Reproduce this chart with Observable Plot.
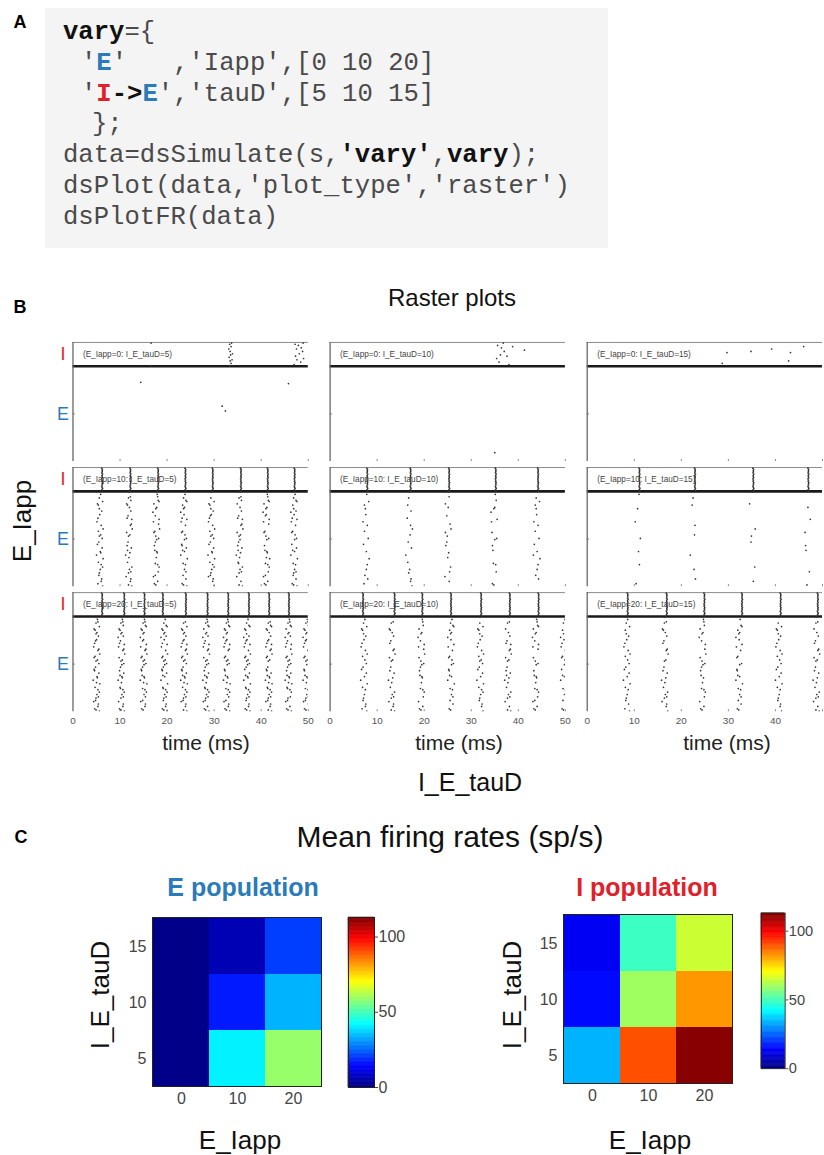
<!DOCTYPE html>
<html><head><meta charset="utf-8">
<script src="https://cdn.jsdelivr.net/npm/d3@7"></script>
<script src="https://cdn.jsdelivr.net/npm/@observablehq/plot@0.6"></script>
<style>
html,body{margin:0;padding:0;background:#fff;}
#page{position:relative;width:824px;height:1155px;overflow:hidden;font-family:"Liberation Sans",Arial,sans-serif;color:#111;}
.abs{position:absolute;}
.lbl{position:absolute;white-space:nowrap;line-height:1;transform:translate(-50%,-50%);}
.rot{position:absolute;white-space:nowrap;line-height:1;transform:translate(-50%,-50%) rotate(-90deg);}
.panel{font-weight:bold;font-size:18px;color:#000;}
#code{left:45px;top:8px;width:563px;height:240px;background:#f4f4f4;}
#codelines{position:absolute;left:18px;top:10px;font-family:"Liberation Mono","Courier New",monospace;font-size:25.6px;line-height:30.8px;color:#4a4a4a;}
#codelines div{white-space:pre;height:30.8px;}
#code b{color:#111;}
.cE{color:#2b7bb9;font-weight:bold;}
.cI{color:#e0202a;font-weight:bold;}
.ind1{padding-left:18px;}
.ind2{padding-left:29px;}
svg{display:block;}
</style></head>
<body><div id="page">
<div class="lbl panel" style="left:20px;top:22px;">A</div>
<div id="code" class="abs"><div id="codelines">
<div><b>vary</b>={</div>
<div class="ind1">'<span class="cE">E</span>'   ,'Iapp',[0 10 20]</div>
<div class="ind1">'<span class="cI">I</span><b>-&gt;</b><span class="cE">E</span>','tauD',[5 10 15]</div>
<div class="ind2">};</div>
<div>data=dsSimulate(s,<b>'vary'</b>,<b>vary</b>);</div>
<div>dsPlot(data,'plot_type','raster')</div>
<div>dsPlotFR(data)</div>
</div></div>

<div class="lbl panel" style="left:20px;top:307px;">B</div>
<div class="lbl" style="left:452px;top:298px;font-size:24px;">Raster plots</div>
<div id="raster" class="abs" style="left:0;top:335px;"></div>
<div class="rot" style="left:22px;top:521px;font-size:26px;">E_Iapp</div>
<div class="lbl" style="left:206px;top:742px;font-size:21px;color:#222;">time (ms)</div>
<div class="lbl" style="left:459px;top:742px;font-size:21px;color:#222;">time (ms)</div>
<div class="lbl" style="left:727px;top:742px;font-size:21px;color:#222;">time (ms)</div>
<div class="lbl" style="left:470px;top:782px;font-size:25px;">I_E_tauD</div>

<div class="lbl panel" style="left:21px;top:837px;">C</div>
<div class="lbl" style="left:450px;top:837px;font-size:30px;">Mean firing rates (sp/s)</div>
<div class="lbl" style="left:243px;top:887px;font-size:25px;font-weight:bold;color:#2b7bb9;">E population</div>
<div class="lbl" style="left:647px;top:887px;font-size:25px;font-weight:bold;color:#e0202a;">I population</div>
<div id="heatE" class="abs" style="left:0;top:900px;"></div>
<div id="cbE" class="abs" style="left:347px;top:900px;"></div>
<div id="heatI" class="abs" style="left:411px;top:900px;"></div>
<div id="cbI" class="abs" style="left:760px;top:900px;"></div>
<div class="rot" style="left:100px;top:995px;font-size:26px;">I_E_tauD</div>
<div class="lbl" style="left:240px;top:1140px;font-size:26px;">E_Iapp</div>
<div class="rot" style="left:512px;top:995px;font-size:26px;">I_E_tauD</div>
<div class="lbl" style="left:650px;top:1140px;font-size:26px;">E_Iapp</div>
</div>
<script>
// ---------- parameters ----------
const TAUD = [5, 10, 15];          // I->E tauD (columns)
const IAPP = [0, 10, 20];          // E Iapp (rows)
// time tick labels visible under each column (the last column is cut by the picture edge)
const TIME_TICKS_BY_TAUD = [[0, 10, 20, 30, 40, 50], [0, 10, 20, 30, 40, 50], [0, 10, 20, 30, 40]];
const INNER_TICKS = [10, 20, 30, 40, 50];
const N_E = 80, N_I = 20;

// ---------- E_Iapp = 0 : sparse individual spikes [t (ms), cell] per tauD ----------
const E_SPIKES_IAPP0_TAUD5 = [[14.4, 67], [31.7, 47], [32.4, 43], [45.8, 66]];
const E_SPIKES_IAPP0_TAUD10 = [[35.0, 8]];
const E_SPIKES_IAPP0_TAUD15 = [];
const I_SPIKES_IAPP0_TAUD5 = [[16.6, 100], [16.6, 81],
  [33.3, 81], [33.6, 83], [33.4, 85], [33.8, 86], [33.2, 88], [33.5, 90], [33.9, 91], [33.4, 93], [33.1, 95], [33.6, 97], [33.3, 99], [33.7, 100],
  [47.0, 82], [48.4, 84], [47.6, 86], [49.0, 87], [47.3, 89], [48.1, 91], [48.8, 93], [47.5, 95], [48.5, 96], [47.9, 98], [48.9, 100], [47.2, 99]];
const I_SPIKES_IAPP0_TAUD10 = [[35.6, 98], [36.4, 96], [37.0, 93], [36.2, 90], [35.4, 87], [35.9, 84], [38.0, 82], [37.6, 89], [41.3, 94], [38.8, 97], [36.8, 100]];
const I_SPIKES_IAPP0_TAUD15 = [[28.7, 83], [29.7, 92], [34.8, 93], [39.2, 95], [42.8, 85], [43.2, 92], [46.0, 97]];

// ---------- E_Iapp = 10 / 20 : population burst times (ms) per tauD ----------
const E_BURSTS_IAPP10 = [[5.7, 11.9, 17.7, 23.6, 29.4, 35.4, 41.1, 47.0], [7.6, 16.8, 25.0, 34.9, 43.9], [10.8, 22.6, 35.0, 46.8]];
const I_BURSTS_IAPP10 = [[6.2, 12.2, 18.1, 23.9, 29.7, 35.7, 41.4, 47.1], [7.9, 17.1, 25.3, 35.2, 44.2], [11.1, 22.9, 35.3, 47.0]];
const E_BURSTS_IAPP20 = [[5.0, 10.3, 15.0, 19.4, 23.6, 28.3, 32.7, 37.0, 41.6, 45.8, 49.6], [7.2, 13.1, 19.4, 25.7, 31.9, 37.8, 43.7, 49.7], [8.4, 16.5, 24.5, 32.3, 40.7, 48.7]];
const I_BURSTS_IAPP20 = [[6.2, 10.9, 15.2, 19.1, 24.0, 28.6, 33.0, 37.4, 41.7, 45.9], [7.0, 13.7, 19.6, 25.7, 32.1, 38.2, 44.3], [8.6, 16.9, 24.9, 32.9, 41.1, 49.0]];
// approximate number of E cells visible per burst (per tauD)
const E_CELLS_PER_BURST_IAPP10 = [34, 17, 7];
const E_CELLS_PER_BURST_IAPP20 = [44, 31, 29];
// spike pattern within a burst: [E cell, offset from burst time (ms)]
const E_SPREAD = [[78,0.2],[3,-0.4],[41,0.5],[66,-0.1],[19,0.3],[55,-0.6],[30,0.1],[72,0.6],[10,-0.2],[47,-0.3],
  [24,0.7],[61,0.0],[36,-0.5],[7,0.4],[69,-0.3],[15,0.1],[52,0.3],[27,-0.7],[75,-0.1],[44,0.2],
  [1,0.6],[58,-0.4],[33,0.5],[12,-0.1],[64,0.4],[21,-0.3],[49,0.7],[38,-0.2],[80,0.0],[5,0.3],
  [70,-0.5],[17,0.6],[43,-0.1],[29,0.2],[60,-0.2],[9,-0.6],[53,0.5],[25,0.0],[76,0.3],[35,-0.4],
  [67,0.1],[13,0.4],[46,-0.5],[2,-0.1],[57,0.6],[31,-0.3],[73,0.4],[20,-0.2],[40,0.1],[63,-0.7]];
// I cells fire almost synchronously: offset (ms) per I cell 81..100
const I_SPREAD = [0.05,-0.05,0.1,0,-0.1,0.05,0,0.08,-0.05,0.02,-0.08,0.05,0,-0.02,0.1,-0.05,0.02,0,0.05,-0.1];

// ---------- mean firing rates (sp/s): rows tauD, columns Iapp 0,10,20 ----------
const E_RATES_TAUD5 = [1, 41, 59];
const E_RATES_TAUD10 = [1, 17, 34];
const E_RATES_TAUD15 = [1, 6, 21];
const I_RATES_TAUD5 = [34, 90, 112];
const I_RATES_TAUD10 = [15, 60, 82];
const I_RATES_TAUD15 = [13, 49, 65];
const RATE_MAX = 113;
const CB_TICKS = [0, 50, 100];
const JET_STOPS = [0, 0.125, 0.375, 0.625, 0.875, 1];
const JET_COLORS = ["#00007f", "#0000ff", "#00ffff", "#ffff00", "#ff0000", "#7f0000"];

const RED = "#e0202a", BLUE = "#2b7bb9";
const FONT = "Liberation Sans, Arial, sans-serif";

// ---------- build spike table ----------
const spikes = [];
const push = (t, cell, iapp, taud) => spikes.push({t, cell, iapp, taud});
[E_SPIKES_IAPP0_TAUD5, E_SPIKES_IAPP0_TAUD10, E_SPIKES_IAPP0_TAUD15].forEach((arr, j) => arr.forEach(([t, c]) => push(t, c, 0, TAUD[j])));
[I_SPIKES_IAPP0_TAUD5, I_SPIKES_IAPP0_TAUD10, I_SPIKES_IAPP0_TAUD15].forEach((arr, j) => arr.forEach(([t, c]) => push(t, c, 0, TAUD[j])));
[[10, E_BURSTS_IAPP10, I_BURSTS_IAPP10, E_CELLS_PER_BURST_IAPP10], [20, E_BURSTS_IAPP20, I_BURSTS_IAPP20, E_CELLS_PER_BURST_IAPP20]]
  .forEach(([iapp, eB, iB, nCells]) => {
    TAUD.forEach((taud, j) => {
      eB[j].forEach((t0, b) => {
        for (let k = 0; k < nCells[j]; k++) {
          const [cell, dt] = E_SPREAD[(b * 13 + k) % E_SPREAD.length];
          push(t0 + dt, cell, iapp, taud);
        }
      });
      iB[j].forEach(t0 => I_SPREAD.forEach((dt, k) => push(t0 + dt, N_E + 1 + k, iapp, taud)));
    });
  });

const panels = IAPP.flatMap(iapp => TAUD.map(taud => ({iapp, taud})));
const rowLabelsI = IAPP.map(iapp => ({iapp, taud: TAUD[0], cell: N_E + N_I / 2 + 0.5, pop: "I"}));
const rowLabelsE = IAPP.map(iapp => ({iapp, taud: TAUD[0], cell: N_E / 2 + 0.5, pop: "E"}));
const tickLabels = TAUD.flatMap((taud, j) => TIME_TICKS_BY_TAUD[j].map(t => ({taud, iapp: IAPP[IAPP.length - 1], t})));

const raster = Plot.plot({
  width: 830, height: 401,
  marginTop: 6, marginBottom: 20, marginLeft: 72, marginRight: 0,
  style: {fontFamily: FONT, background: "transparent"},
  x: {domain: [0, 50], axis: null},
  y: {domain: [0.5, N_E + N_I + 0.5], axis: null},
  fx: {domain: TAUD, paddingInner: 0.0846, axis: null},
  fy: {domain: IAPP, paddingInner: 0.047, axis: null},
  marks: [
    Plot.ruleY([N_E + N_I + 0.5], {stroke: "#8a8a8a", strokeWidth: 1}),
    Plot.ruleY([N_E + 0.5], {stroke: "#1a1a1a", strokeWidth: 2.6}),
    Plot.ruleX([0], {stroke: "#666", strokeWidth: 1.3}),
    Plot.ruleX(INNER_TICKS, {y1: 0.5, y2: 2.2, stroke: "#888"}),
    Plot.ruleY([N_E / 2 + 0.5], {x1: 0, x2: 0.5, stroke: "#777"}),
    Plot.dot(spikes, {x: "t", y: "cell", fx: "taud", fy: "iapp", r: 0.85, fill: "#333", clip: true}),
    Plot.text(panels, {fx: "taud", fy: "iapp", text: d => `(E_Iapp=${d.iapp}: I_E_tauD=${d.taud})`,
      frameAnchor: "top-left", dx: 10, dy: 12, textAnchor: "start", lineAnchor: "middle", fontSize: 8.3, fill: "#444"}),
    Plot.text(rowLabelsI, {fx: "taud", fy: "iapp", y: "cell", text: "pop", frameAnchor: "left", dx: -10, textAnchor: "middle", fontSize: 18, fill: RED}),
    Plot.text(rowLabelsE, {fx: "taud", fy: "iapp", y: "cell", text: "pop", frameAnchor: "left", dx: -10, textAnchor: "middle", fontSize: 18, fill: BLUE}),
    Plot.text(tickLabels, {fx: "taud", fy: "iapp", x: "t", text: "t", frameAnchor: "bottom", dy: 9, lineAnchor: "middle", fontSize: 10, fill: "#555"})
  ]
});
document.getElementById("raster").append(raster);

// ---------- heatmaps ----------
const jet = {type: "linear", domain: JET_STOPS.map(s => s * RATE_MAX), range: JET_COLORS, interpolate: "rgb"};
function heatmap(rows, marginTop) {
  const cells = [];
  TAUD.forEach((taud, j) => IAPP.forEach((iapp, i) => cells.push({iapp, taud, rate: rows[j][i]})));
  return Plot.plot({
    width: 323, height: marginTop + 169 + 30,
    marginLeft: 152, marginRight: 2, marginTop, marginBottom: 30,
    style: {fontFamily: FONT, background: "transparent"},
    x: {domain: IAPP, padding: 0},
    y: {domain: [...TAUD].reverse(), padding: 0},
    color: jet,
    marks: [
      Plot.cell(cells, {x: "iapp", y: "taud", fill: "rate", inset: 0}),
      Plot.frame({stroke: "#222"}),
      Plot.axisX({tickSize: 0, tickPadding: 6, fontSize: 16, label: null, color: "#444"}),
      Plot.axisY({tickSize: 0, tickPadding: 6, fontSize: 16, label: null, color: "#444"})
    ]
  });
}
function colorbar(marginTop) {
  const step = RATE_MAX / 128;
  const bins = d3.range(0, RATE_MAX - step / 2, step);
  return Plot.plot({
    width: 70, height: marginTop + 170 + 10,
    marginLeft: 1, marginRight: 43, marginTop, marginBottom: 10,
    style: {fontFamily: FONT, background: "transparent"},
    x: {domain: [0, 1], axis: null},
    y: {domain: [0, RATE_MAX]},
    color: jet,
    marks: [
      Plot.rect(bins, {x1: 0, x2: 1, y1: d => d, y2: d => d + step, fill: d => d + step / 2, stroke: d => d + step / 2, strokeWidth: 0.6}),
      Plot.frame({stroke: "#222"}),
      Plot.axisY({anchor: "right", ticks: CB_TICKS, tickSize: 3, tickPadding: 1, fontSize: 16, label: null, color: "#444"})
    ]
  });
}
document.getElementById("heatE").append(heatmap([E_RATES_TAUD5, E_RATES_TAUD10, E_RATES_TAUD15], 17));
document.getElementById("cbE").append(colorbar(17));
document.getElementById("heatI").append(heatmap([I_RATES_TAUD5, I_RATES_TAUD10, I_RATES_TAUD15], 14));
document.getElementById("cbI").append(colorbar(14));
</script>
</body></html>
